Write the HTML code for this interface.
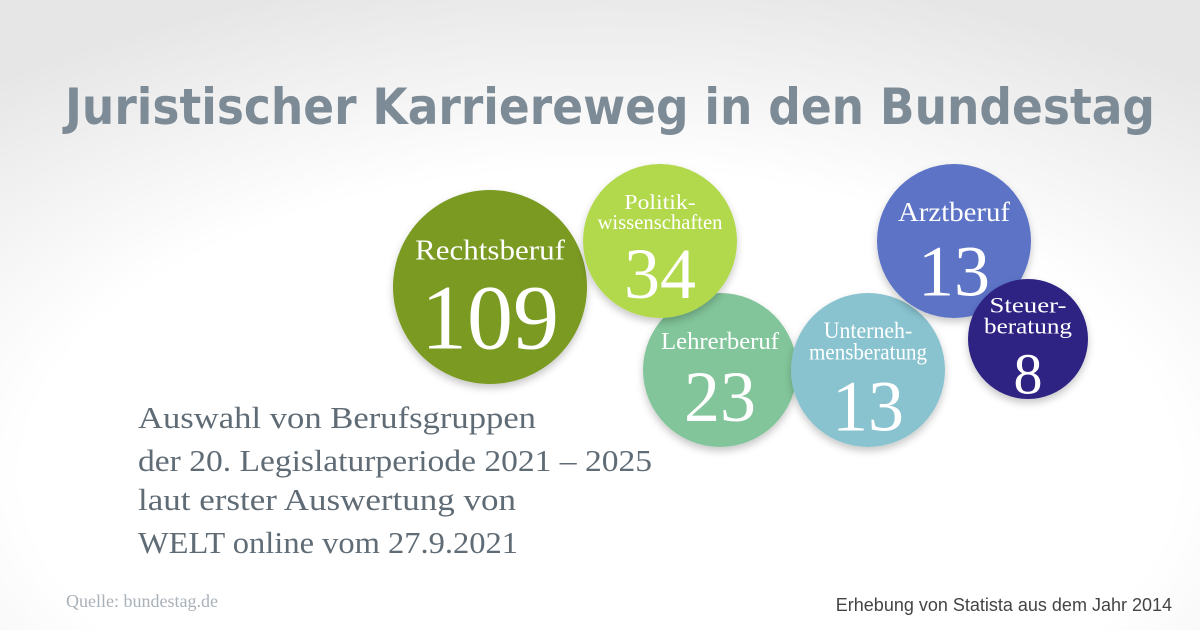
<!DOCTYPE html>
<html><head><meta charset="utf-8"><style>
html,body{margin:0;padding:0;width:1200px;height:630px;overflow:hidden;background:#fff}
svg{display:block}
</style></head><body>
<svg width="1200" height="630" viewBox="0 0 1200 630">
<defs>
<radialGradient id="bg" cx="50%" cy="75%" r="80%">
<stop offset="0.6" stop-color="#ffffff"/><stop offset="1" stop-color="#e6e6e6"/></radialGradient>
<filter id="sh" x="-20%" y="-20%" width="140%" height="150%"><feDropShadow dx="0" dy="4" stdDeviation="4" flood-color="#000" flood-opacity="0.22"/></filter>
</defs>
<rect width="1200" height="630" fill="url(#bg)"/>
<text x="610" y="124" text-anchor="middle" font-family="'DejaVu Sans',sans-serif" font-weight="bold" font-size="50" fill="#7d8b97" textLength="1090" lengthAdjust="spacingAndGlyphs">Juristischer Karriereweg in den Bundestag</text>
<g id="bubbles"></g>
<g font-family="'Liberation Serif',serif" font-size="31" fill="#5f6b75">
<text x="138" y="428" textLength="398" lengthAdjust="spacingAndGlyphs">Auswahl von Berufsgruppen</text>
<text x="138" y="471" textLength="514" lengthAdjust="spacingAndGlyphs">der 20. Legislaturperiode 2021 – 2025</text>
<text x="138" y="510" textLength="378" lengthAdjust="spacingAndGlyphs">laut erster Auswertung von</text>
<text x="138" y="553" textLength="380" lengthAdjust="spacingAndGlyphs">WELT online vom 27.9.2021</text>
</g>
<text x="66" y="607" font-family="'Liberation Serif',serif" font-size="18" fill="#a8b0b8">Quelle: bundestag.de</text>
<text x="1172" y="611" text-anchor="end" font-family="'Liberation Sans',sans-serif" font-size="18" fill="#444">Erhebung von Statista aus dem Jahr 2014</text>
</svg>
<script>
const categories=[["Rechtsberuf"],["Lehrerberuf"],["Politik-","wissenschaften"],["Unterneh-","mensberatung"],["Arztberuf"],["Steuer-","beratung"]];
const values=[109,23,34,13,13,8];
const colors=["#7a9a22","#82c59a","#b2d84c","#88c3cf","#5b73c6","#2d2483"];
const centersX=[490,720,660,868,954,1028];
const centersY=[287,370,241,370,241,339];
const labelSize=[28,24,21,23,27,22];
const labelWidth=[150,118,125,118,112,88];
const valueSize=[92,72,72,72,72,58];
function radius(v){return v>=100?97:(v>=10?77:60);}
const NS="http://www.w3.org/2000/svg";
const g=document.getElementById('bubbles');
values.forEach((v,i)=>{
 const r=radius(v),cx=centersX[i],cy=centersY[i];
 const grp=document.createElementNS(NS,'g');
 
 
 const c=document.createElementNS(NS,'ellipse');
 c.setAttribute('cx',cx);c.setAttribute('cy',cy);c.setAttribute('rx',r);c.setAttribute('ry',r);
 c.setAttribute('fill',colors[i]);c.setAttribute('filter','url(#sh)');
 
 
 grp.appendChild(c);
 const lines=categories[i];const ls=labelSize[i];const vs=valueSize[i];
 const total=lines.length*ls*0.95+vs*0.8;
 let y=cy-total/2+ls*0.8;
 lines.forEach(l=>{
  const t=document.createElementNS(NS,'text');
  t.setAttribute('x',cx);t.setAttribute('y',y);t.setAttribute('text-anchor','middle');
  t.setAttribute('font-family',"'Liberation Serif',serif");
  t.setAttribute('font-size',ls);t.setAttribute('fill','#fff');
  t.setAttribute('textLength',labelWidth[i]*l.length/Math.max(...lines.map(s=>s.length)));t.setAttribute('lengthAdjust','spacingAndGlyphs');
  
  
  t.textContent=l;grp.appendChild(t);y+=ls*0.95;
 });
 const n=document.createElementNS(NS,'text');
 n.setAttribute('x',cx);n.setAttribute('y',y+vs*0.68);n.setAttribute('text-anchor','middle');
 n.setAttribute('font-family',"'Liberation Serif',serif");n.setAttribute('font-size',vs);n.setAttribute('fill','#fff');
 
 
 n.textContent=v;grp.appendChild(n);
 g.appendChild(grp);
});
</script>
</body></html>
